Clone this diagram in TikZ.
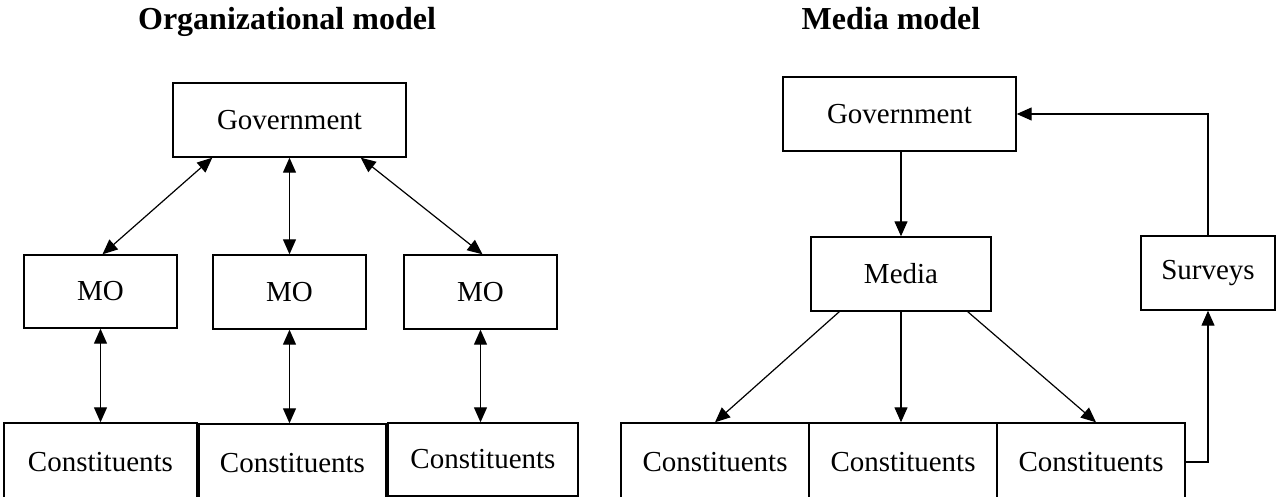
\documentclass[tikz,border=0pt]{standalone}
\usepackage{fontspec}
\setmainfont{Liberation Serif}
\usetikzlibrary{arrows.meta,calc}
\tikzset{
  box/.style={draw, line width=1.4pt, inner sep=0pt, font=\fontsize{29}{34}\selectfont},
  ttl/.style={font=\fontsize{32}{38}\selectfont\bfseries, anchor=base},
  conn/.style={line width=1.2pt, -{Triangle[length=15pt,width=13pt]}},
  dconn/.style={line width=1.2pt, {Triangle[length=15pt,width=13pt]}-{Triangle[length=15pt,width=13pt]}}
}
\begin{document}
\begin{tikzpicture}[x=1pt,y=-1pt]
\clip (0,0) rectangle (1276,497);
% titles
\node[ttl] (t1) at (287,30) {Organizational model};
\node[ttl] (t2) at (891,30) {Media model};
% left model
\node[box, minimum width=233pt, minimum height=74pt] (gL) at (289.5,120) {Government};
\node[box, minimum width=153pt, minimum height=73pt] (mo1) at (100.5,291.5) {MO};
\node[box, minimum width=153pt, minimum height=74pt] (mo2) at (289.5,292) {MO};
\node[box, minimum width=153pt, minimum height=74pt] (mo3) at (480.5,292) {MO};
\node[box, minimum width=193pt, minimum height=78pt] (c1) at (100.5,462) {Constituents};
\node[box, minimum width=187pt, minimum height=78pt] (c2) at (292.5,463) {Constituents};
\node[box, minimum width=190pt, minimum height=73pt] (c3) at (483,459.5) {Constituents};
\draw[dconn] ([xshift=40pt]gL.south west) -- ([xshift=2pt]mo1.north);
\draw[dconn] (gL.south) -- (mo2.north);
\draw[dconn] ([xshift=-46pt]gL.south east) -- ([xshift=2pt]mo3.north);
\draw[dconn] (mo1.south) -- (mo1.south |- c1.north);
\draw[dconn] (mo2.south) -- (mo2.south |- c2.north);
\draw[dconn] (mo3.south) -- (mo3.south |- c3.north);
% right model
\node[box, minimum width=233pt, minimum height=74pt] (gR) at (899.5,114) {Government};
\node[box, minimum width=180pt, minimum height=74pt] (media) at (901,274) {Media};
\node[box, minimum width=134pt, minimum height=74pt] (surv) at (1208,273) {Surveys};
\node[box, minimum width=188pt, minimum height=78pt] (r1) at (715,462) {Constituents};
\node[box, minimum width=188pt, minimum height=78pt] (r2) at (903,462) {Constituents};
\node[box, minimum width=188pt, minimum height=78pt] (r3) at (1091,462) {Constituents};
\draw[conn] (gR.south -| media.north) -- (media.north);
\draw[conn] ([xshift=29pt]media.south west) -- (r1.north);
\draw[conn] (media.south) -- (media.south |- r2.north);
\draw[conn] ([xshift=-24pt]media.south east) -- ([xshift=5pt]r3.north);
\draw[conn] (r3.east) -| (surv.south);
\draw[conn] (surv.north) |- (gR.east);
\end{tikzpicture}
\end{document}
